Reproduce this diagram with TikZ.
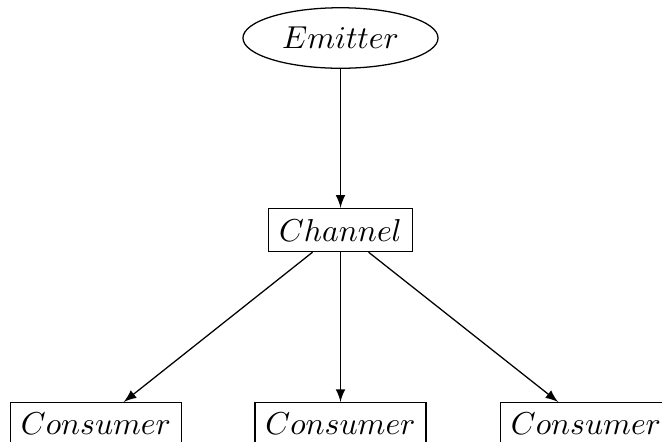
\documentclass[tikz,border=0pt]{standalone}
\usetikzlibrary{shapes.geometric,arrows}
\begin{document}
\begin{tikzpicture}[x=0.3155pt,y=-0.3155pt,
  boxnode/.style={draw,rectangle},
  roundnode/.style={draw,ellipse},
  link/.style={-latex}]
\useasboundingbox (0,0) rectangle (662,441);
\node[roundnode] (emitter) at (340.5,38) {$Emitter$};
\node[boxnode] (channel) at (340.5,230) {$Channel$};
\node[boxnode] (c1) at (96,424) {$Consumer$};
\node[boxnode] (c2) at (340.5,424) {$Consumer$};
\node[boxnode] (c3) at (586,424) {$Consumer$};
\draw[link] (emitter) -- (channel);
\draw[link] (channel) -- (c1);
\draw[link] (channel) -- (c2);
\draw[link] (channel) -- (c3);
\end{tikzpicture}
\end{document}
